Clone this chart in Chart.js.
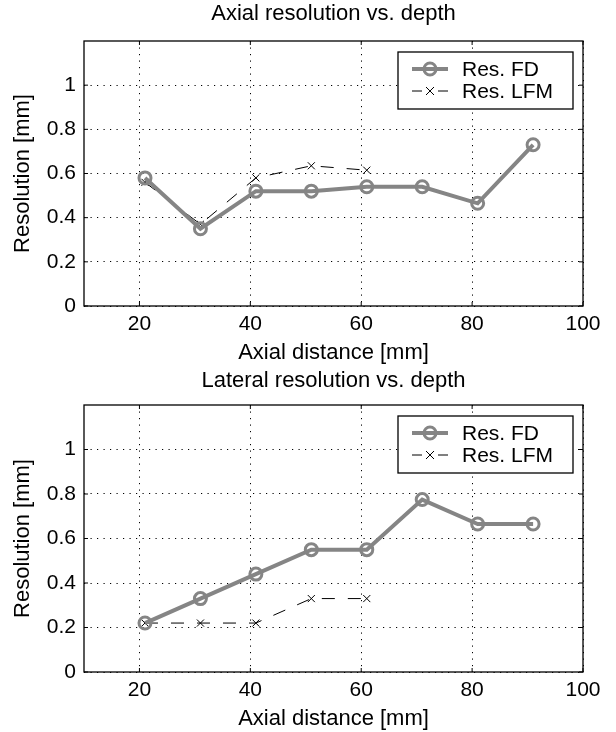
<!DOCTYPE html>
<html>
<head>
<meta charset="utf-8">
<script src="https://cdn.jsdelivr.net/npm/chart.js@4"></script>
<style>
  html, body { margin: 0; padding: 0; background: #fff; }
  .box { width: 616px; height: 366px; position: relative; }
</style>
</head>
<body>
<div class="box"><canvas id="axial"></canvas></div>
<div class="box"><canvas id="lateral"></canvas></div>
<script>
// depth positions [mm]
let depthFD = [21, 31, 41, 51, 61, 71, 81, 91]
let depthLFM = [21, 31, 41, 51, 61]

// axial resolution [mm]
let axialFD = [0.58, 0.35, 0.52, 0.52, 0.54, 0.54, 0.465, 0.73]
let axialLFM = [0.56, 0.37, 0.58, 0.635, 0.615]

// lateral resolution [mm]
let lateralFD = [0.22, 0.33, 0.44, 0.55, 0.55, 0.775, 0.665, 0.665]
let lateralLFM = [0.22, 0.22, 0.22, 0.33, 0.33]

let xTicks = [20, 40, 60, 80, 100]
let yTicks = [0, 0.2, 0.4, 0.6, 0.8, 1]
let labels = ['Res. FD', 'Res. LFM']

const FONT = 'Liberation Sans, Arial, Helvetica, sans-serif'
const GREY = '#858585'

function toPoints(xs, ys) {
  return ys.map((y, i) => ({x: xs[i], y: y}))
}

// frame round the plot area, inward tick marks, matlab-like legend box
const framePlugin = {
  id: 'frame',
  afterDraw(chart) {
    let ctx = chart.ctx
    let a = chart.chartArea
    let sx = chart.scales.x, sy = chart.scales.y
    ctx.save()
    ctx.strokeStyle = '#000'
    ctx.lineWidth = 1.3
    ctx.strokeRect(a.left, a.top, a.right - a.left, a.bottom - a.top)

    ctx.lineWidth = 1
    ctx.beginPath()
    for (let v of xTicks) {
      let px = sx.getPixelForValue(v)
      ctx.moveTo(px, a.top); ctx.lineTo(px, a.top + 4)
      ctx.moveTo(px, a.bottom); ctx.lineTo(px, a.bottom - 4)
    }
    for (let v of yTicks) {
      let py = sy.getPixelForValue(v)
      ctx.moveTo(a.left, py); ctx.lineTo(a.left + 4, py)
      ctx.moveTo(a.right, py); ctx.lineTo(a.right - 4, py)
    }
    ctx.stroke()

    // legend
    let w = 175, h = 57
    let lx = a.right - 10 - w, ly = a.top + 11
    ctx.fillStyle = '#fff'
    ctx.fillRect(lx, ly, w, h)
    ctx.lineWidth = 1.3
    ctx.strokeRect(lx, ly, w, h)
    let rows = [ly + 17, ly + 39]
    chart.data.datasets.forEach((ds, i) => {
      let y = rows[i]
      ctx.strokeStyle = ds.borderColor
      ctx.lineWidth = ds.borderWidth
      ctx.setLineDash([])
      ctx.beginPath()
      if (i == 0) {
        ctx.moveTo(lx + 14, y); ctx.lineTo(lx + 50, y)
        ctx.stroke()
        ctx.lineWidth = 3
        ctx.beginPath()
        ctx.arc(lx + 32, y, 6, 0, Math.PI * 2)
        ctx.stroke()
      } else {
        ctx.moveTo(lx + 14, y); ctx.lineTo(lx + 24, y)
        ctx.moveTo(lx + 40, y); ctx.lineTo(lx + 50, y)
        ctx.moveTo(lx + 28, y - 4); ctx.lineTo(lx + 36, y + 4)
        ctx.moveTo(lx + 28, y + 4); ctx.lineTo(lx + 36, y - 4)
        ctx.stroke()
      }
      ctx.fillStyle = '#000'
      ctx.font = '21px ' + FONT
      ctx.textBaseline = 'middle'
      ctx.fillText(ds.label, lx + 64, y + 1)
    })
    ctx.restore()
  }
}

function makeChart(id, title, fd, lfm, topPad) {
  let ctx = document.getElementById(id).getContext('2d')
  return new Chart(ctx, {
    type: 'line',
    data: {
      datasets: [{
        label: labels[0],
        data: toPoints(depthFD, fd),
        borderColor: GREY,
        borderWidth: 4,
        tension: 0,
        pointStyle: 'circle',
        pointRadius: 6,
        pointBorderWidth: 3,
        pointBorderColor: GREY,
        pointBackgroundColor: 'rgba(0,0,0,0)',
        fill: false
      },
      {
        label: labels[1],
        data: toPoints(depthLFM, lfm),
        borderColor: '#000',
        borderWidth: 1,
        borderDash: [13, 13],
        tension: 0,
        pointStyle: 'crossRot',
        pointRadius: 5,
        pointBorderWidth: 1,
        pointBorderColor: '#000',
        fill: false
      }]
    },
    options: {
      responsive: false,
      animation: false,
      layout: {padding: {left: 0, right: 33, top: 0, bottom: 0}},
      plugins: {
        legend: {display: false},
        tooltip: {enabled: false},
        title: {
          display: true,
          fullSize: false,
          text: title,
          color: '#000',
          font: {family: FONT, size: 22, weight: 'normal'},
          padding: {top: topPad[0], bottom: topPad[1]}
        }
      },
      scales: {
        x: {
          type: 'linear',
          min: 10,
          max: 100,
          afterBuildTicks: s => { s.ticks = xTicks.map(v => ({value: v})) },
          afterFit: s => { s.height = 60 },
          grid: {color: '#000', lineWidth: 1, drawTicks: false},
          border: {display: false, dash: [1.2, 5.3]},
          ticks: {color: '#000', padding: 6, maxRotation: 0, font: {family: FONT, size: 21}},
          title: {
            display: true,
            text: 'Axial distance [mm]',
            color: '#000',
            font: {family: FONT, size: 22},
            padding: {top: 0, bottom: 0}
          }
        },
        y: {
          min: 0,
          max: 1.2,
          afterBuildTicks: s => { s.ticks = yTicks.map(v => ({value: v})) },
          afterFit: s => { s.width = 84 },
          grid: {color: '#000', lineWidth: 1, drawTicks: false},
          border: {display: false, dash: [1.2, 5.3]},
          ticks: {
            color: '#000', padding: 8, font: {family: FONT, size: 21},
            callback: v => String(+v.toFixed(1))
          },
          title: {
            display: true,
            text: 'Resolution [mm]',
            color: '#000',
            font: {family: FONT, size: 22},
            padding: {top: 10, bottom: 0}
          }
        }
      }
    },
    plugins: [framePlugin]
  })
}

document.getElementById('axial').width = 616
document.getElementById('axial').height = 366
document.getElementById('lateral').width = 616
document.getElementById('lateral').height = 366

makeChart('axial', 'Axial resolution vs. depth', axialFD, axialLFM, [1, 13.6])
makeChart('lateral', 'Lateral resolution vs. depth', lateralFD, lateralLFM, [2, 10.6])
</script>
</body>
</html>
